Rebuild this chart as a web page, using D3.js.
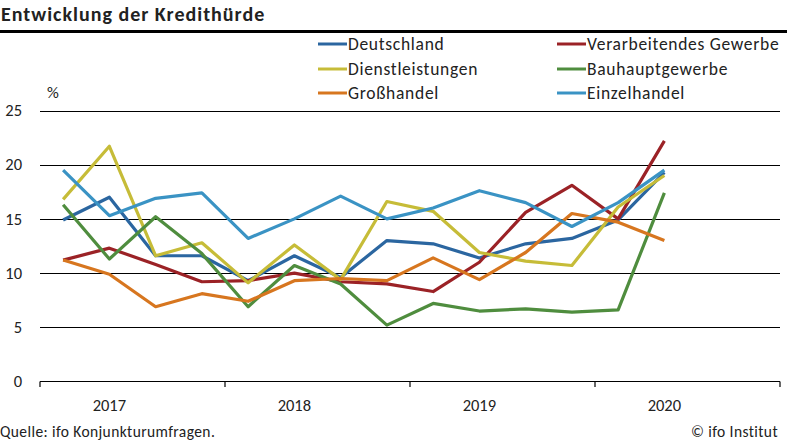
<!DOCTYPE html>
<html><head><meta charset="utf-8">
<script src="https://cdn.jsdelivr.net/npm/d3@7"></script>
<style>
html,body{margin:0;padding:0;background:#fff;}
svg{display:block;font-family:Carlito,Calibri,Lato,"Open Sans",sans-serif;}
</style></head>
<body>
<svg id="c" width="787" height="443"></svg>
<script>
const quarters = ["2017Q1","2017Q2","2017Q3","2017Q4","2018Q1","2018Q2","2018Q3","2018Q4","2019Q1","2019Q2","2019Q3","2019Q4","2020Q1","2020Q2","2020Q3","2020Q4"];
const years = ["2017","2018","2019","2020"];
const yTicks = [0,5,10,15,20,25];
const seriesNames = ["Deutschland","Verarbeitendes Gewerbe","Dienstleistungen","Bauhauptgewerbe","Großhandel","Einzelhandel"];
const deutschland = [14.9,17.0,11.6,11.6,9.3,11.6,9.6,13.0,12.7,11.4,12.7,13.2,14.9,19.3];
const verarbeitendes = [11.2,12.3,10.8,9.2,9.3,10.0,9.2,9.0,8.3,11.0,15.6,18.1,15.0,22.2];
const dienstleistungen = [16.8,21.7,11.6,12.8,9.1,12.6,9.4,16.6,15.7,11.9,11.1,10.7,16.1,19.0];
const bauhaupt = [16.3,11.3,15.2,11.8,6.9,10.7,9.0,5.2,7.2,6.5,6.7,6.4,6.6,17.4];
const grosshandel = [11.2,9.9,6.9,8.1,7.4,9.3,9.5,9.3,11.4,9.4,11.9,15.5,14.7,13.0];
const einzelhandel = [19.5,15.3,16.9,17.4,13.2,15.0,17.1,15.0,16.0,17.6,16.5,14.3,16.5,19.5];

const colors = ["#2b66a0","#9b2226","#c6bc38","#4f8d3e","#d7761f","#3a93c4"];
const values = [deutschland,verarbeitendes,dienstleistungen,bauhaupt,grosshandel,einzelhandel];

const svg = d3.select("#c");
const x = d3.scaleBand().domain(quarters).range([40,780]).padding(0);
const y = d3.scaleLinear().domain([0,25]).range([381.5,110.5]);

// title
svg.append("text").attr("x",1).attr("y",21).attr("font-size",20).attr("font-weight","bold")
  .attr("letter-spacing",1).attr("fill","#222").text("Entwicklung der Kredithürde");
svg.append("line").attr("x1",0).attr("x2",787).attr("y1",31.5).attr("y2",31.5).attr("stroke","#000").attr("stroke-width",3);

// gridlines
svg.append("g").selectAll("line").data(yTicks.filter(d=>d>0)).join("line")
  .attr("x1",40).attr("x2",780).attr("y1",d=>Math.round(y(d))+0.5).attr("y2",d=>Math.round(y(d))+0.5)
  .attr("stroke","#000").attr("stroke-width",1.2);
svg.append("g").selectAll("text").data(yTicks).join("text")
  .attr("x",22).attr("y",d=>y(d)).attr("dy","0.35em").attr("text-anchor","end")
  .attr("font-size",16.5).attr("fill","#222").text(d=>d);
svg.append("text").attr("x",47).attr("y",92).attr("dy","0.35em").attr("font-size",16.5).attr("fill","#222").text("%");

// x axis
svg.append("line").attr("x1",40).attr("x2",780).attr("y1",381.5).attr("y2",381.5).attr("stroke","#000").attr("stroke-width",1.2);
const tickXs = years.map(yr=>x(yr+"Q1")).concat([x.range()[1]]);
svg.append("g").selectAll("line").data(tickXs).join("line")
  .attr("x1",d=>d).attr("x2",d=>d).attr("y1",381.5).attr("y2",387).attr("stroke","#000").attr("stroke-width",1.2);
svg.append("g").selectAll("text").data(years).join("text")
  .attr("x",d=>x(d+"Q2")+x.bandwidth()/2).attr("y",405).attr("dy","0.35em").attr("text-anchor","middle")
  .attr("font-size",16.5).attr("fill","#222").text(d=>d);

// lines
const line = d3.line().x((d,i)=>x(quarters[i])+x.bandwidth()/2).y(d=>y(d));
svg.append("g").selectAll("path").data(values).join("path")
  .attr("d",d=>line(d)).attr("fill","none").attr("stroke",(d,i)=>colors[i])
  .attr("stroke-width",3.2).attr("stroke-linejoin","round");

// legend
const legX = [318,557], legY = [44,69,93];
const lg = svg.append("g").selectAll("g").data(seriesNames).join("g")
  .attr("transform",(d,i)=>`translate(${legX[i%2]},${legY[Math.floor(i/2)]})`);
lg.append("line").attr("x1",0).attr("x2",29).attr("y1",0).attr("y2",0).attr("stroke",(d,i)=>colors[i]).attr("stroke-width",3);
lg.append("text").attr("x",30).attr("y",0).attr("dy","0.35em").attr("font-size",17.5)
  .attr("letter-spacing",0.7).attr("fill","#222").text(d=>d);

// footer
svg.append("text").attr("x",0).attr("y",432).attr("dy","0.35em").attr("font-size",15.5)
  .attr("letter-spacing",0.4).attr("fill","#222").text("Quelle: ifo Konjunkturumfragen.");
svg.append("text").attr("x",778).attr("y",432).attr("dy","0.35em").attr("text-anchor","end").attr("font-size",15.5)
  .attr("letter-spacing",0.4).attr("fill","#222").text("© ifo Institut");
</script>
</body></html>
